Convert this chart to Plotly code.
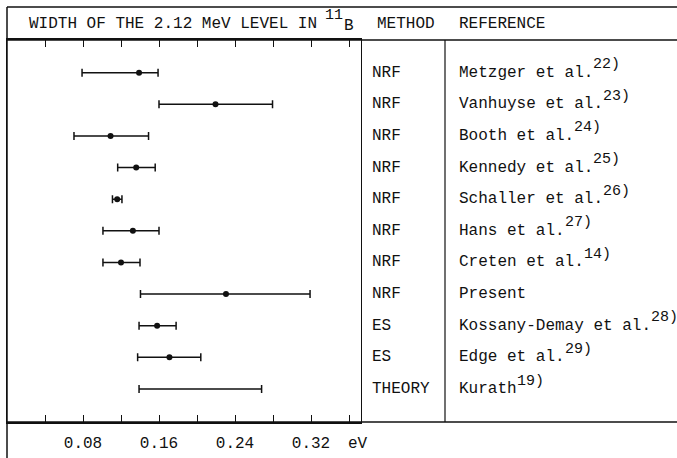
import plotly.graph_objects as go

W, H = 677, 458

methods = ["NRF", "NRF", "NRF", "NRF", "NRF", "NRF", "NRF", "NRF", "ES", "ES", "THEORY"]
refs = ["Metzger et al.", "Vanhuyse et al.", "Booth et al.", "Kennedy et al.",
        "Schaller et al.", "Hans et al.", "Creten et al.", "Present",
        "Kossany-Demay et al.", "Edge et al.", "Kurath"]
ref_nums = ["22)", "23)", "24)", "25)", "26)", "27)", "14)", "", "28)", "29)", "19)"]
lows = [0.079, 0.160, 0.0705, 0.1165, 0.111, 0.101, 0.101, 0.1405, 0.139, 0.1375, 0.139]
centers = [0.139, 0.2195, 0.109, 0.136, 0.116, 0.1325, 0.120, 0.2305, 0.158, 0.171, None]
highs = [0.159, 0.2795, 0.149, 0.156, 0.121, 0.160, 0.140, 0.319, 0.178, 0.204, 0.268]
tick_vals = [0.04, 0.08, 0.12, 0.16, 0.20, 0.24, 0.28, 0.32, 0.36]
tick_text = ["", "0.08", "", "0.16", "", "0.24", "", "0.32", ""]

FONT = "Liberation Mono"
FS = 16
FS_SUP = 15
ADV = 0.6 * FS
INK = "#111111"

rows = list(range(len(refs)))

def px(x):
    return x / W

def py(y):
    return 1 - y / H

fig = go.Figure()

# ranges as error bars from the low end
fig.add_trace(go.Scatter(
    x=lows, y=rows, mode="markers",
    marker=dict(size=0.1, color="rgba(0,0,0,0)"),
    error_x=dict(type="data", symmetric=False,
                 array=[h - l for h, l in zip(highs, lows)],
                 arrayminus=[0] * len(lows),
                 color=INK, thickness=1.5, width=4),
    showlegend=False, hoverinfo="skip"))

cx = [c for c in centers if c is not None]
cy = [r for r, c in zip(rows, centers) if c is not None]
fig.add_trace(go.Scatter(
    x=cx, y=cy, mode="markers",
    marker=dict(size=6, color=INK),
    showlegend=False))

ann = []
# header
hx = 27
hy = 24
ann.append(dict(text="WIDTH OF THE 2.12 MeV LEVEL IN", x=px(hx), y=py(hy),
                xref="paper", yref="paper", xanchor="left", yanchor="middle", showarrow=False))
ann.append(dict(text="11", x=px(323), y=py(16), font=dict(size=FS_SUP),
                xref="paper", yref="paper", xanchor="left", yanchor="middle", showarrow=False))
ann.append(dict(text="B", x=px(342), y=py(25.5),
                xref="paper", yref="paper", xanchor="left", yanchor="middle", showarrow=False))
ann.append(dict(text="METHOD", x=px(375), y=py(hy),
                xref="paper", yref="paper", xanchor="left", yanchor="middle", showarrow=False))
ann.append(dict(text="REFERENCE", x=px(457), y=py(hy),
                xref="paper", yref="paper", xanchor="left", yanchor="middle", showarrow=False))

for r, m, rf, n in zip(rows, methods, refs, ref_nums):
    ann.append(dict(text=m, x=px(370), y=r, xref="paper", yref="y",
                    xanchor="left", yanchor="middle", showarrow=False))
    ann.append(dict(text=rf, x=px(457), y=r, xref="paper", yref="y",
                    xanchor="left", yanchor="middle", showarrow=False))
    if n:
        ann.append(dict(text=n, x=px(457 + len(rf) * ADV), y=r, xref="paper", yref="y",
                        font=dict(size=FS_SUP),
                        xanchor="left", yanchor="middle", yshift=8, showarrow=False))

ann.append(dict(text="eV", x=px(358), y=py(443.5), xref="paper", yref="paper",
                xanchor="center", yanchor="middle", showarrow=False))

LW = 1.5
shapes = [
    dict(type="line", xref="paper", yref="paper", x0=px(7), x1=1, y0=py(7), y1=py(7),
         line=dict(color=INK, width=LW)),
    dict(type="line", xref="paper", yref="paper", x0=px(7), x1=1, y0=py(40), y1=py(40),
         line=dict(color=INK, width=LW)),
    dict(type="line", xref="paper", yref="paper", x0=px(7), x1=1, y0=py(422), y1=py(422),
         line=dict(color=INK, width=LW)),
    dict(type="line", xref="paper", yref="paper", x0=px(7), x1=px(7), y0=py(7), y1=0,
         line=dict(color=INK, width=LW)),
    dict(type="line", xref="paper", yref="paper", x0=px(445), x1=px(445), y0=py(40), y1=py(422),
         line=dict(color=INK, width=1.2)),
]

row_px = 31.63
y_top = (40 - 72.7) / row_px
y_bot = (422 - 72.7) / row_px

fig.update_layout(
    width=W, height=H,
    margin=dict(l=0, r=0, t=0, b=0),
    paper_bgcolor="white", plot_bgcolor="white",
    font=dict(family=FONT, size=FS, color=INK),
    annotations=ann, shapes=shapes,
    xaxis=dict(domain=[px(7), px(361)], range=[0, (361 - 7) / 950],
               tickvals=tick_vals, ticktext=tick_text,
               ticks="inside", ticklen=7, tickwidth=1.2, tickcolor=INK,
               showline=True, linecolor=INK, linewidth=LW, mirror="ticks",
               showgrid=False, zeroline=False, ticklabelstandoff=5,
               tickfont=dict(family=FONT, size=FS, color=INK)),
    yaxis=dict(domain=[py(422), py(40)], range=[y_bot, y_top],
               showticklabels=False, ticks="", showgrid=False, zeroline=False,
               showline=True, linecolor=INK, linewidth=1.2, mirror=True),
)

fig.write_html("out.html")
